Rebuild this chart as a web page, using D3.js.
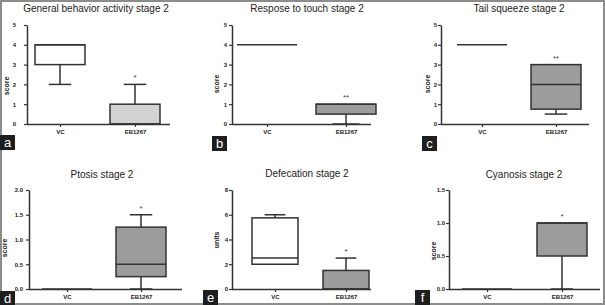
<!DOCTYPE html>
<html>
<head>
<meta charset="utf-8">
<script src="https://cdn.jsdelivr.net/npm/d3@7"></script>
<style>
  body { margin: 0; background: #fff; }
  text { font-family: "Liberation Sans", Arial, sans-serif; }
</style>
</head>
<body>
<div id="chart"></div>
<script>
// panel data
var letters = ["a", "b", "c", "d", "e", "f"];
var titles = ["General behavior activity stage 2", "Respose to touch stage 2", "Tail squeeze stage 2",
              "Ptosis stage 2", "Defecation stage 2", "Cyanosis stage 2"];
var yLabels = ["score", "score", "score", "score", "units", "score"];
var yMax = [5, 5, 5, 2, 8, 1.5];
var yTicks = [[0, 1, 2, 3, 4, 5], [0, 1, 2, 3, 4, 5], [0, 1, 2, 3, 4, 5],
              [0, 0.5, 1, 1.5, 2], [0, 2, 4, 6, 8], [0, 0.5, 1, 1.5]];
var groups = ["VC", "EB1267"];
// [min, q1, median, q3, max]
var vcStats = [[2, 3, 4, 4, 4], [4, 4, 4, 4, 4], [4, 4, 4, 4, 4],
               [0, 0, 0, 0, 0], [2, 2, 2.5, 5.75, 6], [0, 0, 0, 0, 0]];
var ebStats = [[0, 0, 0, 1, 2], [0, 0.5, 1, 1, 1], [0.5, 0.75, 2, 3, 3],
               [0, 0.25, 0.5, 1.25, 1.5], [0, 0, 0, 1.5, 2.5], [0, 0.5, 1, 1, 1]];
var stars = ["*", "**", "**", "*", "*", "*"];

// layout of each panel (pixels)
var layout = [
  {x0: 27, x1: 170, y0: 25, y1: 124, c: [60, 135], bw: 50, tp: 8, tx: 96, ty: 12, lx: 7, ly: 86, tag: [0, 135], fill: "#d3d3d3"},
  {x0: 232, x1: 371, y0: 25, y1: 124, c: [267, 346], bw: 60, tp: 2, tx: 307, ty: 12, lx: 217, ly: 84, tag: [212, 136], fill: "#9c9c9c"},
  {x0: 441, x1: 589, y0: 25, y1: 124, c: [482, 556], bw: 50, tp: 1, tx: 519, ty: 12, lx: 428, ly: 84, tag: [422, 136], fill: "#9c9c9c"},
  {x0: 29, x1: 182, y0: 190, y1: 289, c: [67, 141], bw: 50, tp: 3, tx: 102, ty: 178, lx: 5, ly: 248, tag: [0, 291], fill: "#9c9c9c"},
  {x0: 232, x1: 371, y0: 190, y1: 289, c: [275, 346], bw: 46, tp: 1, tx: 307, ty: 177, lx: 217, ly: 240, tag: [203, 290], fill: "#9c9c9c"},
  {x0: 449, x1: 600, y0: 190, y1: 289, c: [487, 562], bw: 50, tp: 1, tx: 524, ty: 178, lx: 434, ly: 251, tag: [415, 290], fill: "#9c9c9c"}
];

var W = 605, H = 305;
var ink = "#333";

var svg = d3.select("#chart").append("svg")
    .attr("width", W)
    .attr("height", H);

// outer frame
svg.append("rect")
    .attr("x", 1).attr("y", 1)
    .attr("width", W - 2).attr("height", H - 2)
    .attr("fill", "none")
    .attr("stroke", "#8c8c8c")
    .attr("stroke-width", 2);

function drawBox(g, s, cx, bw, y, fill) {
    var capW = bw * 0.45;
    // whiskers
    if (s[4] > s[3]) {
        g.append("line").attr("x1", cx).attr("x2", cx).attr("y1", y(s[3])).attr("y2", y(s[4]));
        g.append("line").attr("x1", cx - capW / 2).attr("x2", cx + capW / 2).attr("y1", y(s[4])).attr("y2", y(s[4]));
    }
    if (s[0] < s[1]) {
        g.append("line").attr("x1", cx).attr("x2", cx).attr("y1", y(s[1])).attr("y2", y(s[0]));
        g.append("line").attr("x1", cx - capW / 2).attr("x2", cx + capW / 2).attr("y1", y(s[0])).attr("y2", y(s[0]));
    }
    g.append("rect")
        .attr("x", cx - bw / 2)
        .attr("y", y(s[3]))
        .attr("width", bw)
        .attr("height", y(s[1]) - y(s[3]))
        .attr("fill", fill);
    g.append("line").attr("x1", cx - bw / 2).attr("x2", cx + bw / 2).attr("y1", y(s[2])).attr("y2", y(s[2]));
}

layout.forEach(function(L, i) {
    var g = svg.append("g");

    var y = d3.scaleLinear().domain([0, yMax[i]]).range([L.y1, L.y0]);
    var x = d3.scalePoint().domain(groups).range(L.c);

    // title
    g.append("text")
        .attr("x", L.tx).attr("y", L.ty)
        .attr("text-anchor", "middle")
        .attr("font-size", "10px")
        .attr("fill", "#222")
        .text(titles[i]);

    // y label
    g.append("text")
        .attr("transform", "translate(" + L.lx + "," + L.ly + ") rotate(-90)")
        .attr("text-anchor", "middle")
        .attr("dy", "0.35em")
        .attr("font-size", "7px")
        .attr("font-weight", "bold")
        .attr("fill", "#222")
        .text(yLabels[i]);

    // boxes
    var boxes = g.append("g")
        .attr("stroke", ink)
        .attr("stroke-width", 1.5);
    drawBox(boxes, vcStats[i], x("VC"), L.bw, y, "#fff");
    drawBox(boxes, ebStats[i], x("EB1267"), L.bw, y, L.fill);

    // significance
    g.append("text")
        .attr("x", x("EB1267"))
        .attr("y", y(ebStats[i][4]) - 4)
        .attr("text-anchor", "middle")
        .attr("font-size", "8px")
        .attr("fill", "#444")
        .text(stars[i]);

    // axes
    var fmt = yMax[i] < 3 ? d3.format(".1f") : d3.format("d");
    var yAxis = g.append("g")
        .attr("transform", "translate(" + L.x0 + ",0)")
        .call(d3.axisLeft(y).tickValues(yTicks[i]).tickFormat(fmt).tickSize(3).tickSizeOuter(0).tickPadding(L.tp));

    var xAxis = g.append("g")
        .attr("transform", "translate(0," + L.y1 + ")")
        .call(d3.axisBottom(x).tickSize(3).tickSizeOuter(0).tickPadding(3));
    xAxis.select(".domain").attr("d", "M" + L.x0 + ",0.5H" + L.x1);

    [yAxis, xAxis].forEach(function(ax) {
        ax.select(".domain").attr("stroke", ink).attr("stroke-width", 1.5);
        ax.selectAll(".tick line").attr("stroke", ink).attr("stroke-width", 1.2);
        ax.selectAll(".tick text")
            .attr("font-size", "6px")
            .attr("font-weight", "bold")
            .attr("fill", "#222")
            .style("font-family", "'Liberation Sans', Arial, sans-serif");
    });

    // panel letter
    var tag = g.append("g").attr("transform", "translate(" + L.tag[0] + "," + L.tag[1] + ")");
    tag.append("rect")
        .attr("width", 15).attr("height", 15)
        .attr("fill", "#1e1e1e");
    tag.append("text")
        .attr("x", 7.5).attr("y", 12)
        .attr("text-anchor", "middle")
        .attr("font-size", "13px")
        .attr("fill", "#fff")
        .text(letters[i]);
});
</script>
</body>
</html>
